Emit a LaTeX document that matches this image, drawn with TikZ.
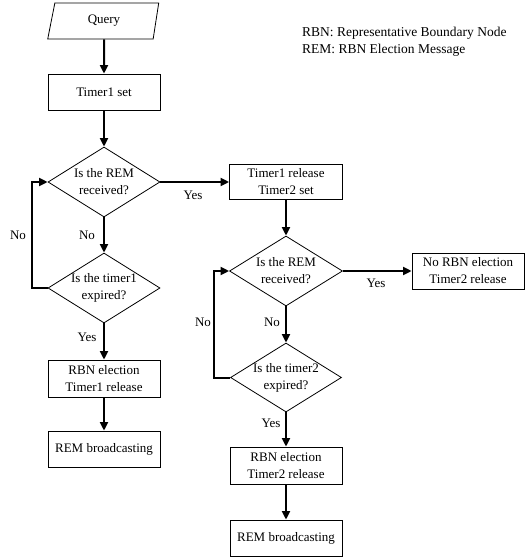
\documentclass[tikz,border=0pt]{standalone}
\usepackage{fontspec}
\setmainfont{Liberation Serif}
\usetikzlibrary{shapes.geometric,arrows.meta}
\begin{document}
\begin{tikzpicture}[x=1pt,y=-1pt,
  txt/.style={font=\fontsize{13}{17}\selectfont},
  stepbox/.style={draw,line width=0.8pt,minimum width=112pt,minimum height=36pt,inner sep=0pt,align=center,txt},
  dia/.style={diamond,draw,line width=0.8pt,minimum width=112pt,minimum height=70pt,inner sep=0pt},
  dtext/.style={txt,align=center},
  arr/.style={line width=2pt,-{Triangle[length=8.5pt,width=8pt]}},
  lbl/.style={txt,inner sep=0pt}]
\useasboundingbox (0,0) rectangle (529,557);
% legend
\node[font=\fontsize{13.5}{17}\selectfont,anchor=west,align=left,inner sep=0pt] (legend) at (302,41.5) {RBN: Representative Boundary Node\\REM: RBN Election Message};
% left column
\node[trapezium,draw,line width=0.8pt,trapezium left angle=58,trapezium right angle=116,trapezium stretches body,minimum width=111pt,minimum height=36pt,inner sep=0pt,txt] (query) at (104,21) {Query};
\node[stepbox] (t1set) at (104,92) {Timer1 set};
\node[dia,label={[dtext]center:Is the REM\\received?}] (d1) at (104,182) {};
\node[dia,label={[dtext]center:Is the timer1\\expired?}] (d3) at (104,288) {};
\node[stepbox,minimum height=37pt] (rbn1) at (104,378.5) {RBN election\\Timer1 release};
\node[stepbox] (rem1) at (104,449) {REM broadcasting};
% right column
\node[stepbox,minimum width=113pt,minimum height=35pt] (t1rel) at (286,181.5) {Timer1 release\\Timer2 set};
\node[dia,minimum width=113pt] (d2) at (286,271) {};
\node[dtext] (d2t) at (d2) {Is the REM\\received?};
\node[dia,minimum width=111pt,minimum height=69pt] (d4) at (286,377.5) {};
\node[dtext] (d4t) at (d4) {Is the timer2\\expired?};
\node[stepbox,minimum height=37pt] (rbn2) at (286,465.5) {RBN election\\Timer2 release};
\node[stepbox] (rem2) at (286,538) {REM broadcasting};
\node[stepbox] (norbn) at (468,271) {No RBN election\\Timer2 release};
% connectors left
\draw[arr] (query.south) -- (t1set.north);
\draw[arr] (t1set.south) -- (d1.north);
\draw[arr] (d1.east) -- (d1.east -| t1rel.west);
\draw[arr] (d1.south) -- (d3.north);
\draw[arr] (d3.west) -- ++(-16,0) |- (d1.west);
\draw[arr] (d3.south) -- (rbn1.north);
\draw[arr] (rbn1.south) -- (rem1.north);
% connectors right
\draw[arr] (t1rel.south) -- (d2.north);
\draw[arr] (d2.east) -- (norbn.west);
\draw[arr] (d2.south) -- (d4.north);
\draw[arr] (d4.west) -- ++(-16,0) |- (d2.west);
\draw[arr] (d4.south) -- (rbn2.north);
\draw[arr] (rbn2.south) -- (rem2.north);
% labels
\node[lbl] (y1) at (193,195) {Yes};
\node[lbl] (n1) at (18,235) {No};
\node[lbl] (n2) at (87,235) {No};
\node[lbl] (y2) at (87,337) {Yes};
\node[lbl] (y3) at (376,283) {Yes};
\node[lbl] (n3) at (203,322) {No};
\node[lbl] (n4) at (272,322) {No};
\node[lbl] (y4) at (271,423) {Yes};
\end{tikzpicture}
\end{document}
